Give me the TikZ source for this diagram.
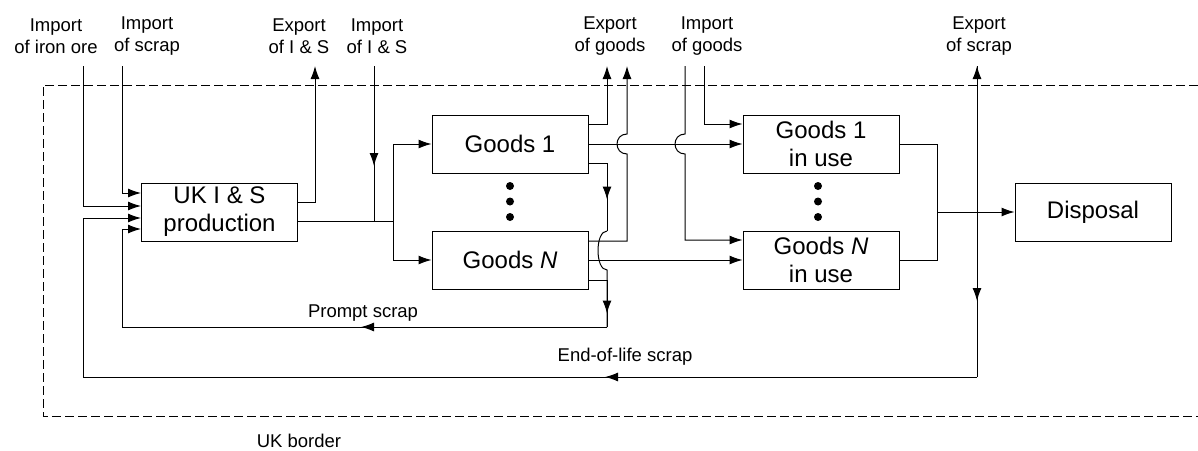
\documentclass[tikz,border=0pt]{standalone}
\usepackage{fontspec}
\setmainfont{Liberation Sans}
\usetikzlibrary{arrows.meta,decorations.markings}
\tikzset{
  arr/.style={-{Latex[length=13pt,width=9pt]}},
  midarr/.style={postaction={decorate},decoration={markings,mark=at position #1 with {\arrow{Latex[length=13pt,width=9pt]}}}},
  box/.style={draw,line width=1pt,minimum width=156pt,minimum height=58pt,inner sep=0pt,align=center,font=\fontsize{24}{28}\selectfont},
  lab/.style={align=center,inner sep=0pt,font=\fontsize{18.5}{22}\selectfont},
  dotf/.style={fill=black,circle,inner sep=0pt,minimum size=8pt},
}
\begin{document}
\begin{tikzpicture}[x=1pt,y=-1pt,line width=1pt]
\useasboundingbox (0,0) rectangle (1198,450);
% border
\draw[dash pattern=on 9pt off 4pt] (1198,85) -- (43,85) -- (43,416) -- (1198,416);
% boxes
\node[box] (ukis) at (219.5,212) {UK I \& S\\production};
\node[box] (g1) at (510,144) {Goods 1};
\node[box] (gN) at (510,260) {Goods \textit{N}};
\node[box] (u1) at (821,144) {Goods 1\\in use};
\node[box] (uN) at (821,260) {Goods \textit{N}\\in use};
\node[box] (disp) at (1093,212) {Disposal};
% dots
\foreach \i/\yy in {1/186,2/201.5,3/217}{
  \node[dotf] (da\i) at (510,\yy) {};
  \node[dotf] (db\i) at (818,\yy) {};
}
% labels
\node[lab] (t_ore) at (56,36) {Import\\of iron ore};
\node[lab] (t_scr) at (147,36) {Import\\of scrap};
\node[lab] (t_exis) at (299,36) {Export\\of I \& S};
\node[lab] (t_imis) at (377,36) {Import\\of I \& S};
\node[lab] (t_exg) at (610,36) {Export\\of goods};
\node[lab] (t_img) at (707,36) {Import\\of goods};
\node[lab] (t_exs) at (979,36) {Export\\of scrap};
\node[lab] (t_pr) at (363,313) {Prompt scrap};
\node[lab] (t_eol) at (625,357) {End-of-life scrap};
\node[lab] (t_uk) at (299,441) {UK border};
% coordinates
\coordinate (ore) at (83,66);
\coordinate (scr) at (122,66);
\coordinate (exis) at (315,66);
\coordinate (imis) at (374,66);
\coordinate (jis) at (374,221);
\coordinate (split) at (393,221);
\coordinate (exg1) at (607,66);
\coordinate (exgN) at (627,66);
\coordinate (img1) at (704,66);
\coordinate (imgN) at (685,66);
\coordinate (exs) at (977,66);
\coordinate (b1top) at (607,231);
\coordinate (b1bot) at (607,270);
\coordinate (prc) at (607,327);
\coordinate (prl) at (122,327);
\coordinate (eolc) at (977,377);
\coordinate (eoll) at (83,377);
\coordinate (dsp) at (937,212);
\coordinate (xgb) at (627,154);
\coordinate (xgt) at (627,134);
\coordinate (igt) at (685,134);
\coordinate (igb) at (685,154);
% UK I&S inputs
\draw[arr] (ore) |- ([yshift=6pt]ukis.west);
\draw[arr] (scr) |- ([yshift=19pt]ukis.west);
\draw[arr] ([yshift=10pt]ukis.east) -| (exis);
\draw[midarr=100pt] (imis) -- (jis);
\draw ([yshift=-9pt]ukis.east) -- (split);
\draw[arr] (split) |- (g1.west);
\draw[arr] (split) |- (gN.west);
% goods 1 outputs
\draw[arr] ([yshift=20pt]g1.east) -| (exg1);
\draw[arr] (g1.east) -- (u1.west);
\draw[midarr=55pt] ([yshift=-19pt]g1.east) -| (b1top);
\draw (b1top) .. controls (595,231) and (595,270) .. (b1bot) -- (prc);
% goods N outputs
\draw[arr] ([yshift=19pt]gN.east) -| (xgb) .. controls (613.7,154) and (613.7,134) .. (xgt) -- (exgN);
\draw[arr] (gN.east) -- (uN.west);
\draw[midarr=52pt] ([yshift=-20pt]gN.east) -| (prc);
% prompt scrap
\draw[midarr=246pt] (prc) -- (prl);
\draw[arr] (prl) |- ([yshift=-17pt]ukis.west);
% import of goods
\draw[arr] (img1) |- ([yshift=20pt]u1.west);
\draw[arr] (imgN) -- (igt) .. controls (671.7,134) and (671.7,154) .. (igb) |- ([yshift=20pt]uN.west);
% to disposal
\draw (u1.east) -| (dsp);
\draw (uN.east) -| (dsp);
\draw[arr] (dsp) -- (disp.west);
% export of scrap / end-of-life
\draw[arr] (eolc) -- (exs);
\draw[midarr=235pt] (exs) -- (eolc);
\draw[midarr=372pt] (eolc) -- (eoll);
\draw[arr] (eoll) |- ([yshift=-6pt]ukis.west);
\end{tikzpicture}
\end{document}
